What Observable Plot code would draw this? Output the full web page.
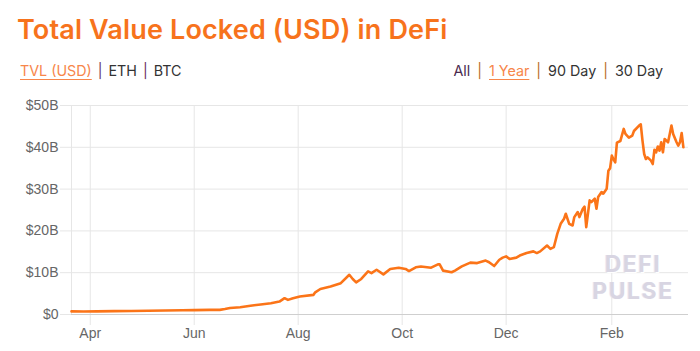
<!DOCTYPE html>
<html>
<head>
<meta charset="utf-8">
<script src="https://cdn.jsdelivr.net/npm/d3@7"></script>
<script src="https://cdn.jsdelivr.net/npm/@observablehq/plot@0.6"></script>
<style>
  html, body { margin: 0; padding: 0; background: #fff; }
  #wrap { position: relative; width: 700px; height: 351px; overflow: hidden; font-family: Inter, "Open Sans", sans-serif; }
  #title { position: absolute; left: 17px; top: 16px; font-size: 27px; line-height: 27px; font-weight: 600; letter-spacing: 0.15px; color: #f7731c; white-space: nowrap; }
  .nav { position: absolute; top: 62px; font-size: 14.3px; line-height: 18px; color: #333; white-space: nowrap; }
  #navL { left: 20px; }
  #navR { right: 37px; }
  .nav .act { color: #f7864a; text-decoration: underline; text-underline-offset: 3px; }
  #navL .sep { color: #6a2f5e; margin: 0 6px; }
  #navR .sepo { color: #b86b1e; margin: 0 7px; }
  #chart { position: absolute; left: 0; top: 90px; }
  .wm { position: absolute; left: 583px; width: 100px; text-align: center; font-family: Inter, sans-serif; font-weight: 700; font-size: 23px; line-height: 22px; color: #d8d5e2; letter-spacing: 1.5px; text-shadow: 1px 1px 0 #fff, -1px 0 0 #ece9f2; }
</style>
</head>
<body>
<div id="wrap">
  <div id="title">Total Value Locked (USD) in DeFi</div>
  <div class="nav" id="navL"><span class="act">TVL (USD)</span><span class="sep">|</span>ETH<span class="sep">|</span>BTC</div>
  <div class="nav" id="navR"><span style="color:#4a2a4f">All</span><span class="sepo">|</span><span class="act">1 Year</span><span class="sepo">|</span>90 Day<span class="sepo">|</span>30 Day</div>
  <div id="chart"></div>
  <div class="wm" style="top:253px">DEFI</div>
  <div class="wm" style="top:280px">PULSE</div>
</div>
<script>
const dates = [
  "2020-03-21","2020-03-28","2020-04-05","2020-04-15","2020-04-25","2020-05-05","2020-05-15","2020-05-25",
  "2020-06-01","2020-06-10","2020-06-16","2020-06-19","2020-06-22","2020-06-28","2020-07-04","2020-07-10",
  "2020-07-16","2020-07-21","2020-07-24","2020-07-26","2020-07-29","2020-08-02","2020-08-10","2020-08-11",
  "2020-08-14","2020-08-20","2020-08-26","2020-08-31","2020-09-02","2020-09-04","2020-09-07","2020-09-11",
  "2020-09-13","2020-09-16","2020-09-20","2020-09-24","2020-09-29","2020-10-03","2020-10-05","2020-10-09",
  "2020-10-12","2020-10-18","2020-10-22","2020-10-23","2020-10-25","2020-10-30","2020-11-01","2020-11-05",
  "2020-11-10","2020-11-14","2020-11-19","2020-11-21","2020-11-24","2020-11-27","2020-11-29","2020-12-01",
  "2020-12-03","2020-12-07","2020-12-09","2020-12-13","2020-12-17","2020-12-19","2020-12-21","2020-12-25",
  "2020-12-27","2020-12-29","2020-12-31","2021-01-02","2021-01-04","2021-01-05","2021-01-07","2021-01-09",
  "2021-01-10","2021-01-12","2021-01-13","2021-01-15","2021-01-16","2021-01-17","2021-01-19","2021-01-20",
  "2021-01-22","2021-01-23","2021-01-24","2021-01-26","2021-01-27","2021-01-29","2021-01-30","2021-01-31",
  "2021-02-01","2021-02-02","2021-02-03","2021-02-04","2021-02-06","2021-02-08","2021-02-09","2021-02-11",
  "2021-02-13","2021-02-14","2021-02-17","2021-02-18","2021-02-19","2021-02-20","2021-02-21","2021-02-22",
  "2021-02-24","2021-02-25","2021-02-26","2021-02-27","2021-02-28","2021-03-01","2021-03-02","2021-03-03",
  "2021-03-04","2021-03-06","2021-03-07","2021-03-08","2021-03-09","2021-03-11","2021-03-12","2021-03-13",
  "2021-03-14","2021-03-15"
];
const tvlBillions = [
  0.75,0.7,0.75,0.8,0.85,0.9,0.95,1.0,
  1.05,1.1,1.1,1.3,1.55,1.75,2.1,2.4,
  2.7,3.1,3.9,3.5,3.9,4.3,4.7,5.3,
  6.1,6.7,7.5,9.5,8.5,7.7,8.5,10.3,
  9.9,10.7,9.6,10.9,11.2,10.9,10.4,11.3,
  11.5,11.2,12.0,12.0,10.5,10.1,10.5,11.5,
  12.4,12.3,12.9,12.5,11.6,13.1,13.6,13.9,
  13.3,13.6,14.1,14.7,15.1,14.7,15.1,16.5,
  15.7,16.1,19.3,21.7,22.9,24.1,21.7,21.3,
  23.3,24.5,23.3,25.3,25.8,20.9,27.3,26.9,
  27.7,25.3,28.1,29.3,28.9,30.1,34.4,35.0,
  38.0,37.1,36.4,41.1,41.5,44.4,43.2,42.3,
  42.8,43.9,45.2,45.5,41.6,38.4,37.2,37.6,
  36.8,36.0,39.4,38.8,40.2,39.2,41.2,38.8,
  42.0,41.2,43.2,45.2,43.2,41.2,40.4,41.2,
  43.4,40.0
];
const xDomain = ["2020-03-21", "2021-03-18"];
const monthTicks = ["2020-04-01","2020-06-01","2020-08-01","2020-10-01","2020-12-01","2021-02-01"];
const monthLabels = ["Apr","Jun","Aug","Oct","Dec","Feb"];
const yTicks = [0, 10, 20, 30, 40, 50];
const yLabels = ["$0", "$10B", "$20B", "$30B", "$40B", "$50B"];

const data = dates.map((d, i) => ({date: new Date(d), tvl: tvlBillions[i]}));
const xTicks = monthTicks.map(d => new Date(d));
const xLabelMap = new Map(xTicks.map((d, i) => [+d, monthLabels[i]]));
const dom = xDomain.map(d => new Date(d));
const grid = "#e6e6e6";

const chart = Plot.plot({
  width: 700,
  height: 261,
  marginTop: 15,
  marginBottom: 37,
  marginLeft: 71,
  marginRight: 12,
  style: {fontFamily: "'Liberation Sans', Arial, sans-serif", fontSize: "14px", color: "#666", background: "transparent", overflow: "visible"},
  x: {type: "utc", domain: dom},
  y: {domain: [0, 50]},
  marks: [
    Plot.gridY(yTicks, {stroke: grid, strokeOpacity: 1}),
    Plot.gridX(xTicks, {stroke: grid, strokeOpacity: 1}),
    Plot.ruleX([dom[0]], {stroke: grid}),
    Plot.axisY(yTicks, {tickSize: 11, tickPadding: 2, stroke: grid, fill: "#666", tickFormat: d => yLabels[yTicks.indexOf(d)], label: null}),
    Plot.axisX(xTicks, {tickSize: 11, tickPadding: 3, stroke: grid, fill: "#666", tickFormat: d => xLabelMap.get(+d), label: null}),
    Plot.ruleY([0], {stroke: "#cfcfcf"}),
    Plot.lineY(data, {x: "date", y: "tvl", stroke: "#fb7418", strokeWidth: 2.6, strokeLinejoin: "round"})
  ]
});
document.getElementById("chart").appendChild(chart);
</script>
</body>
</html>
